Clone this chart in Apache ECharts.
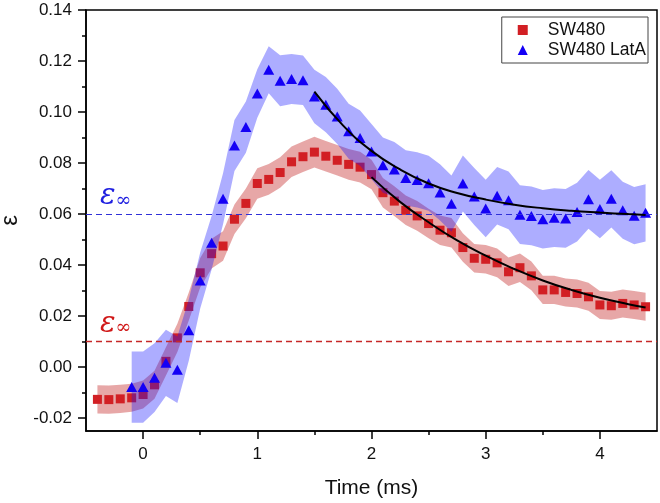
<!DOCTYPE html>
<html>
<head>
<meta charset="utf-8">
<style>html,body{margin:0;padding:0;background:#fff;}#c{width:660px;height:503px;}</style>
<script src="https://cdn.jsdelivr.net/npm/echarts@6/dist/echarts.min.js"></script>
</head>
<body>
<div id="c"></div>
<script>
// ---- data ----
const redTime = [-0.4,-0.3,-0.2,-0.1,0.0,0.1,0.2,0.3,0.4,0.5,0.6,0.7,0.8,0.9,1.0,1.1,1.2,1.3,1.4,1.5,1.6,1.7,1.8,1.9,2.0,2.1,2.2,2.3,2.4,2.5,2.6,2.7,2.8,2.9,3.0,3.1,3.2,3.3,3.4,3.5,3.6,3.7,3.8,3.9,4.0,4.1,4.2,4.3,4.4];
const redEps = [-0.0126,-0.0127,-0.0124,-0.0120,-0.0107,-0.0069,0.0023,0.0115,0.0238,0.0370,0.0445,0.0475,0.0580,0.0642,0.0720,0.0736,0.0763,0.0805,0.0825,0.0843,0.0827,0.0811,0.0795,0.0784,0.0755,0.0684,0.0651,0.0615,0.0593,0.0563,0.0537,0.0527,0.0469,0.0427,0.0423,0.0409,0.0374,0.0390,0.0358,0.0303,0.0303,0.0293,0.0289,0.0276,0.0244,0.0241,0.0250,0.0244,0.0237];
const redErr = [0.0055,0.0055,0.0055,0.0055,0.0055,0.0055,0.0055,0.0055,0.0055,0.0058,0.0058,0.0058,0.0058,0.0058,0.0060,0.0060,0.0060,0.0060,0.0060,0.0060,0.0060,0.0060,0.0060,0.0060,0.0058,0.0058,0.0058,0.0058,0.0058,0.0058,0.0058,0.0058,0.0056,0.0056,0.0056,0.0056,0.0056,0.0056,0.0056,0.0055,0.0055,0.0055,0.0055,0.0055,0.0055,0.0055,0.0055,0.0055,0.0055];

const blueTime = [-0.1,0.0,0.1,0.2,0.3,0.4,0.5,0.6,0.7,0.8,0.9,1.0,1.1,1.2,1.3,1.4,1.5,1.6,1.7,1.8,1.9,2.0,2.1,2.2,2.3,2.4,2.5,2.6,2.7,2.8,2.9,3.0,3.1,3.2,3.3,3.4,3.5,3.6,3.7,3.8,3.9,4.0,4.1,4.2,4.3,4.4];
const blueEps = [-0.0078,-0.0078,-0.0041,0.0017,-0.0010,0.0145,0.0340,0.0488,0.0660,0.0869,0.0941,0.1073,0.1166,0.1123,0.1130,0.1125,0.1061,0.1029,0.0983,0.0925,0.0898,0.0845,0.0792,0.0775,0.0742,0.0734,0.0721,0.0685,0.0641,0.0720,0.0669,0.0622,0.0672,0.0654,0.0598,0.0593,0.0580,0.0586,0.0583,0.0608,0.0658,0.0620,0.0660,0.0615,0.0594,0.0605];
const blueErr = [0.0140,0.0140,0.0135,0.0130,0.0130,0.0120,0.0110,0.0105,0.0100,0.0100,0.0100,0.0095,0.0092,0.0100,0.0098,0.0097,0.0105,0.0108,0.0108,0.0108,0.0108,0.0108,0.0108,0.0108,0.0108,0.0108,0.0108,0.0110,0.0110,0.0110,0.0112,0.0113,0.0113,0.0113,0.0115,0.0115,0.0115,0.0115,0.0115,0.0115,0.0115,0.0115,0.0112,0.0112,0.0112,0.0112];

// fitted decay curves
const blueFitTime = [1.5,1.75,2.0,2.25,2.5,2.75,3.0,3.25,3.5,3.75,4.0,4.25,4.4];
const blueFitEps  = [0.1080,0.0948,0.0848,0.0775,0.0720,0.0683,0.0657,0.0637,0.0623,0.0613,0.0606,0.0600,0.0597];
const redFitTime  = [2.0,2.25,2.5,2.75,3.0,3.25,3.5,3.75,4.0,4.25,4.4];
const redFitEps   = [0.0745,0.0648,0.0568,0.0497,0.0437,0.0385,0.0340,0.0303,0.0272,0.0247,0.0234];

const epsInfBlue = 0.059;
const epsInfRed = 0.0103;

const xLabelValues = [0,1,2,3,4];
const xMinorTicks = [0.5,1.5,2.5,3.5];
const yLabelValues = [-0.02,0,0.02,0.04,0.06,0.08,0.10,0.12,0.14];
const yMinorTicks = [-0.01,0.01,0.03,0.05,0.07,0.09,0.11,0.13];

const seriesNames = ['SW480','SW480 LatA'];

// ---- styles ----
const FONT = 'Liberation Sans, Arial, sans-serif';
const RED = '#d21f24';
const BLUE = '#1400f5';
const RED_BAND = 'rgba(195,35,35,0.40)';
const BLUE_BAND = 'rgba(20,20,255,0.35)';

function pairs(xs, ys){ return xs.map((x,i)=>[x, ys[i]]); }

function band(xs, ys, errs, fill){
  return {
    type:'custom', silent:true, data:[[xs[0], ys[0]]],
    renderItem:function(params, api){
      const pts = [];
      for (let i=0;i<xs.length;i++) pts.push(api.coord([xs[i], ys[i]+errs[i]]));
      for (let i=xs.length-1;i>=0;i--) pts.push(api.coord([xs[i], ys[i]-errs[i]]));
      return {type:'polygon', shape:{points:pts}, style:{fill:fill, stroke:null}};
    }
  };
}

function epsLabel(color){
  return {
    show:true, position:'insideStartTop', distance:[14,3],
    formatter:'{e|ε}{s|∞}',
    rich:{
      e:{fontFamily:'DejaVu Serif, serif', fontStyle:'italic', fontSize:29, color:color, verticalAlign:'bottom'},
      s:{fontFamily:'DejaVu Serif, serif', fontSize:19, color:color, verticalAlign:'bottom', padding:[0,0,1,0]}
    }
  };
}

const chart = echarts.init(document.getElementById('c'), null, {renderer:'canvas'});
chart.setOption({
  animation:false,
  backgroundColor:'#fff',
  grid:{left:86, right:3, top:10, bottom:72, outerBoundsMode:'none', containLabel:false,
    show:true, borderColor:'#000', borderWidth:1.5, backgroundColor:'transparent'},
  legend:{
    orient:'vertical', right:12, top:17, itemWidth:10, itemHeight:10, itemGap:2,
    padding:[4,2,4,16], borderColor:'#444', borderWidth:1, backgroundColor:'#fff',
    textStyle:{fontFamily:FONT, fontSize:17.5, color:'#111', padding:[0,0,0,15]},
    data:[{name:seriesNames[0], icon:'rect'},{name:seriesNames[1], icon:'triangle'}]
  },
  xAxis:[{
    type:'value', min:-0.5, max:4.5,
    name:'Time (ms)', nameLocation:'middle', nameGap:47,
    nameTextStyle:{fontFamily:FONT, fontSize:21, color:'#111'},
    axisLine:{show:true, onZero:false, lineStyle:{color:'#000', width:1.5}},
    axisTick:{show:true, length:8, customValues:xLabelValues, lineStyle:{color:'#000', width:1.5}},
    axisLabel:{customValues:xLabelValues, fontFamily:FONT, fontSize:17, color:'#111', margin:15},
    splitLine:{show:false}
  },{
    type:'value', min:-0.5, max:4.5, position:'bottom',
    axisLine:{show:false, onZero:false}, axisLabel:{show:false}, splitLine:{show:false},
    axisTick:{show:true, length:4, customValues:xMinorTicks, lineStyle:{color:'#000', width:1.5}}
  }],
  yAxis:[{
    type:'value', min:-0.025, max:0.14,
    name:'ε', nameLocation:'middle', nameGap:54, nameRotate:90,
    nameTextStyle:{fontFamily:FONT, fontSize:24, color:'#111'},
    axisLine:{show:true, onZero:false, lineStyle:{color:'#000', width:1.5}},
    axisTick:{show:true, length:8, customValues:yLabelValues, lineStyle:{color:'#000', width:1.5}},
    axisLabel:{customValues:yLabelValues, fontFamily:FONT, fontSize:17, color:'#111', margin:14,
      formatter:function(v){ return v.toFixed(2); }},
    splitLine:{show:false}
  },{
    type:'value', min:-0.025, max:0.14, position:'left',
    axisLine:{show:false, onZero:false}, axisLabel:{show:false}, splitLine:{show:false},
    axisTick:{show:true, length:4, customValues:yMinorTicks, lineStyle:{color:'#000', width:1.5}}
  }],
  series:[
    Object.assign(band(redTime, redEps, redErr, RED_BAND), {z:1}),
    {
      type:'line', data:[], silent:true, z:1,
      markLine:{silent:true, symbol:'none', animation:false,
        lineStyle:{type:[6,4], color:'#3030d8', width:1.2},
        label:epsLabel('#2020e0'),
        data:[{yAxis:epsInfBlue}]}
    },
    {
      type:'line', data:[], silent:true, z:1,
      markLine:{silent:true, symbol:'none', animation:false,
        lineStyle:{type:[6,4], color:'#c62828', width:1.3},
        label:epsLabel('#d01818'),
        data:[{yAxis:epsInfRed}]}
    },
    {
      name:seriesNames[0], type:'scatter', symbol:'rect', symbolSize:9, z:2,
      itemStyle:{color:RED, opacity:1}, data:pairs(redTime, redEps)
    },
    Object.assign(band(blueTime, blueEps, blueErr, BLUE_BAND), {z:3}),
    {
      name:seriesNames[1], type:'scatter', symbol:'triangle', symbolSize:[11,10], z:4,
      itemStyle:{color:BLUE, opacity:1}, data:pairs(blueTime, blueEps)
    },
    {
      type:'line', smooth:0.5, showSymbol:false, symbol:'none', silent:true, z:5,
      lineStyle:{color:'#000', width:2}, data:pairs(redFitTime, redFitEps)
    },
    {
      type:'line', smooth:0.5, showSymbol:false, symbol:'none', silent:true, z:5,
      lineStyle:{color:'#000', width:2}, data:pairs(blueFitTime, blueFitEps)
    }
  ]
});
</script>
</body>
</html>
